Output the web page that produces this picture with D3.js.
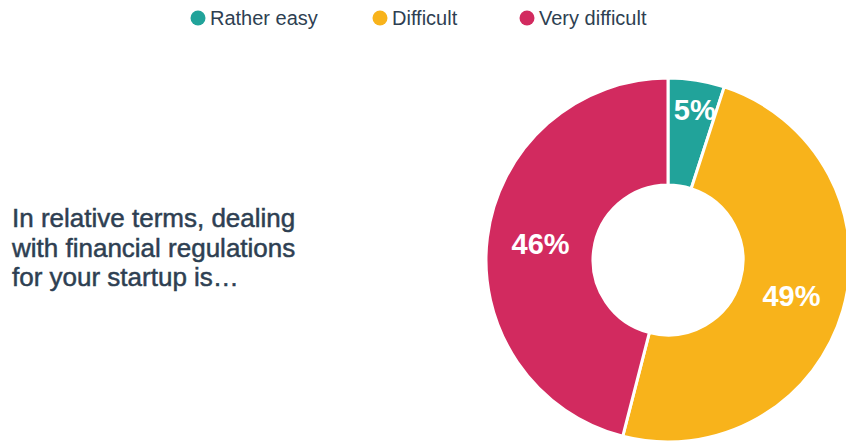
<!DOCTYPE html>
<html>
<head>
<meta charset="utf-8">
<script src="https://cdn.jsdelivr.net/npm/d3@7"></script>
<style>
  html, body { margin: 0; padding: 0; background: #fff; }
  svg { display: block; font-family: "Liberation Sans", Arial, Helvetica, sans-serif; }
</style>
</head>
<body>
<svg id="chart" width="846" height="444"></svg>
<script>
// Survey answers and their shares (percent)
const categories = ["Rather easy", "Difficult", "Very difficult"];
const shares = [5, 49, 46];
const colors = ["#21a39a", "#f8b31b", "#d22a5f"];
const questionLines = ["In relative terms, dealing", "with financial regulations", "for your startup is…"];

const svg = d3.select("#chart");
const textColor = "#2e3f52";

// Legend row across the top
const legendX = [198, 380, 527];
const legend = svg.append("g");
categories.forEach((c, i) => {
  const g = legend.append("g").attr("transform", `translate(${legendX[i]},18)`);
  g.append("circle").attr("r", 7.5).attr("fill", colors[i]);
  g.append("text").attr("x", 12).attr("y", 7)
    .attr("font-size", 20).attr("fill", textColor).text(c);
});

// Question text on the left
const q = svg.append("text").attr("x", 12).attr("y", 227)
  .attr("font-size", 26).attr("fill", textColor)
  .attr("stroke", textColor).attr("stroke-width", 0.5);
questionLines.forEach((line, i) => {
  q.append("tspan").attr("x", 12).attr("dy", i === 0 ? 0 : 29.5).text(line);
});

// Donut
const cx = 668, cy = 260, outerR = 182, innerR = 75;
const data = categories.map((c, i) => ({ name: c, value: shares[i], color: colors[i] }));
const pie = d3.pie().value(d => d.value).sort(null);
const arc = d3.arc().innerRadius(innerR).outerRadius(outerR);
const arcs = pie(data);

const donut = svg.append("g").attr("transform", `translate(${cx},${cy})`);
donut.selectAll("path").data(arcs).join("path")
  .attr("d", arc)
  .attr("fill", d => d.data.color)
  .attr("stroke", "#fff").attr("stroke-width", 3).attr("stroke-linejoin", "round");

// Percent labels: at the ring's midline, pushed outward for narrow slices
donut.selectAll("text.pct").data(arcs).join("text")
  .attr("class", "pct")
  .attr("transform", d => {
    const narrow = (d.endAngle - d.startAngle) < 0.5;
    const r = narrow ? 152 : (innerR + outerR) / 2;
    const a = (d.startAngle + d.endAngle) / 2;
    return `translate(${r * Math.sin(a) + (narrow ? 3 : 0)},${-r * Math.cos(a)})`;
  })
  .attr("text-anchor", "middle").attr("dy", "0.36em")
  .attr("font-size", 29).attr("font-weight", "bold").attr("fill", "#fff")
  .text(d => d.data.value + "%");
</script>
</body>
</html>
